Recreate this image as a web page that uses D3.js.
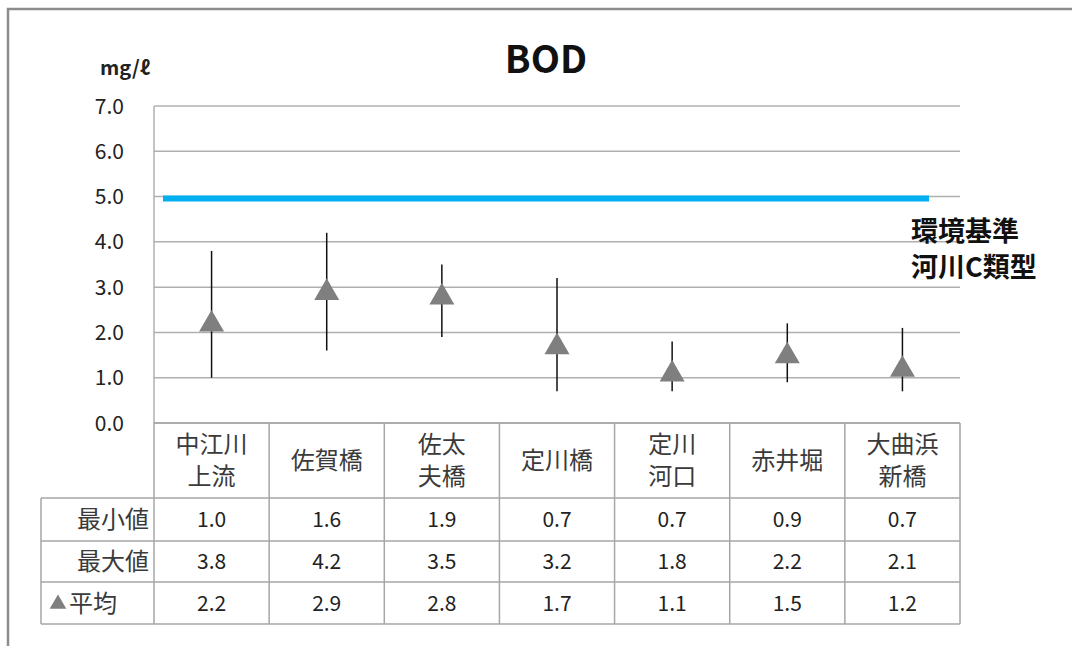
<!DOCTYPE html>
<html>
<head>
<meta charset="utf-8">
<script src="https://cdn.jsdelivr.net/npm/d3@7"></script>
<style>
  body { margin: 0; background: #fff; }
  svg { display: block; }
  text { font-family: "Noto Sans CJK JP", "Open Sans", sans-serif; }
</style>
</head>
<body>
<div id="chart"></div>
<script>
// sampling points and values (mg/l)
const sites = [["中江川", "上流"], ["佐賀橋"], ["佐太", "夫橋"], ["定川橋"], ["定川", "河口"], ["赤井堀"], ["大曲浜", "新橋"]];
const minVals = [1.0, 1.6, 1.9, 0.7, 0.7, 0.9, 0.7];
const maxVals = [3.8, 4.2, 3.5, 3.2, 1.8, 2.2, 2.1];
const avgVals = [2.2, 2.9, 2.8, 1.7, 1.1, 1.5, 1.2];
const standard = 5.0;
const yTicks = [0, 1, 2, 3, 4, 5, 6, 7];
const rowLabels = ["最小値", "最大値", "平均"];

const width = 1072, height = 646;
const svg = d3.select("#chart").append("svg")
    .attr("width", width)
    .attr("height", height);

// outer frame
svg.append("path")
    .attr("d", "M8,646 L8,9 L1072,9")
    .attr("fill", "none")
    .attr("stroke", "#8c8c8c")
    .attr("stroke-width", 2.5);

const left = 154, right = 960;
const x = d3.scaleBand().domain(d3.range(sites.length)).range([left, right]);
const y = d3.scaleLinear().domain([0, 7]).range([423, 106]);

// gridlines
svg.append("g")
  .selectAll("line")
  .data(yTicks)
  .join("line")
    .attr("x1", left)
    .attr("x2", right)
    .attr("y1", d => y(d))
    .attr("y2", d => y(d))
    .attr("stroke", "#b0b0b0")
    .attr("stroke-width", 1.5);

svg.append("line")
    .attr("x1", left).attr("x2", left)
    .attr("y1", y(7)).attr("y2", y(0))
    .attr("stroke", "#b0b0b0")
    .attr("stroke-width", 1.5);

// y labels
svg.append("g")
  .selectAll("text")
  .data(yTicks)
  .join("text")
    .attr("x", 124)
    .attr("y", d => y(d))
    .attr("dy", "0.36em")
    .attr("text-anchor", "end")
    .attr("font-family", "Open Sans, sans-serif")
    .attr("font-size", 21)
    .attr("fill", "#222")
    .text(d => d.toFixed(1));

svg.append("text")
    .attr("x", 100).attr("y", 75)
    .attr("font-family", "DejaVu Sans, sans-serif")
    .attr("font-weight", "bold")
    .attr("font-size", 20)
    .attr("fill", "#222")
    .text("mg/ℓ");

svg.append("text")
    .attr("x", 546).attr("y", 73)
    .attr("text-anchor", "middle")
    .attr("font-family", "Open Sans, sans-serif")
    .attr("font-weight", "bold")
    .attr("font-size", 38)
    .attr("fill", "#111")
    .text("BOD");

// environmental standard line
svg.append("line")
    .attr("x1", 163).attr("x2", 929)
    .attr("y1", y(standard) + 2).attr("y2", y(standard) + 2)
    .attr("stroke", "#00b0f0")
    .attr("stroke-width", 6);

svg.append("text")
    .attr("x", 911).attr("y", 241)
    .attr("font-weight", "bold")
    .attr("font-size", 27)
    .attr("fill", "#111")
    .text("環境基準");
svg.append("text")
    .attr("x", 911).attr("y", 277)
    .attr("font-weight", "bold")
    .attr("font-size", 27)
    .attr("fill", "#111")
    .text("河川C類型");

// min-max bars
const cx = i => x(i) + x.bandwidth() / 2;
svg.append("g")
  .selectAll("line")
  .data(d3.range(sites.length))
  .join("line")
    .attr("x1", cx).attr("x2", cx)
    .attr("y1", i => y(minVals[i]))
    .attr("y2", i => y(maxVals[i]))
    .attr("stroke", "#111")
    .attr("stroke-width", 1.5);

// average markers
const tri = d3.symbol().type(d3.symbolTriangle).size(270);
svg.append("g")
  .selectAll("path")
  .data(avgVals)
  .join("path")
    .attr("d", tri)
    .attr("transform", (d, i) => "translate(" + cx(i) + "," + (y(d) + 1) + ")")
    .attr("fill", "#7f7f7f");

// data table
const rowTop = [423, 498, 541, 582, 624];
const tableLeft = 41;
const tg = svg.append("g");
const gridColor = "#a6a6a6";
const tableText = "#3a3a3a";

// horizontal rules
rowTop.forEach((ty, k) => {
  tg.append("line")
    .attr("x1", k === 0 ? left : tableLeft).attr("x2", right)
    .attr("y1", ty).attr("y2", ty)
    .attr("stroke", gridColor).attr("stroke-width", 1.5);
});
// vertical rules
d3.range(sites.length + 1).forEach(i => {
  const vx = i < sites.length ? x(i) : right;
  tg.append("line")
    .attr("x1", vx).attr("x2", vx)
    .attr("y1", rowTop[0]).attr("y2", rowTop[4])
    .attr("stroke", gridColor).attr("stroke-width", 1.5);
});
tg.append("line")
    .attr("x1", tableLeft).attr("x2", tableLeft)
    .attr("y1", rowTop[1]).attr("y2", rowTop[4])
    .attr("stroke", gridColor).attr("stroke-width", 1.5);

// header labels
sites.forEach((s, i) => {
  const mid = (rowTop[0] + rowTop[1]) / 2;
  const lh = 32;
  s.forEach((line, j) => {
    tg.append("text")
      .attr("x", cx(i))
      .attr("y", mid + (j - (s.length - 1) / 2) * lh)
      .attr("dy", "0.36em")
      .attr("text-anchor", "middle")
      .attr("font-size", 24)
      .attr("fill", tableText)
      .text(line);
  });
});

// row labels
rowLabels.forEach((lab, k) => {
  const my = (rowTop[k + 1] + rowTop[k + 2]) / 2;
  if (k === 2) {
    tg.append("path")
      .attr("d", d3.symbol().type(d3.symbolTriangle).size(120))
      .attr("transform", "translate(58," + (my + 1) + ")")
      .attr("fill", "#7f7f7f");
    tg.append("text")
      .attr("x", 69).attr("y", my).attr("dy", "0.36em")
      .attr("font-size", 24).attr("fill", tableText)
      .text(lab);
  } else {
    tg.append("text")
      .attr("x", 149).attr("y", my).attr("dy", "0.36em")
      .attr("text-anchor", "end")
      .attr("font-size", 24).attr("fill", tableText)
      .text(lab);
  }
});

// values
[minVals, maxVals, avgVals].forEach((vals, k) => {
  const my = (rowTop[k + 1] + rowTop[k + 2]) / 2;
  vals.forEach((v, i) => {
    tg.append("text")
      .attr("x", cx(i)).attr("y", my).attr("dy", "0.36em")
      .attr("text-anchor", "middle")
      .attr("font-family", "Open Sans, sans-serif")
      .attr("font-size", 21).attr("fill", "#222")
      .text(v.toFixed(1));
  });
});
</script>
</body>
</html>
